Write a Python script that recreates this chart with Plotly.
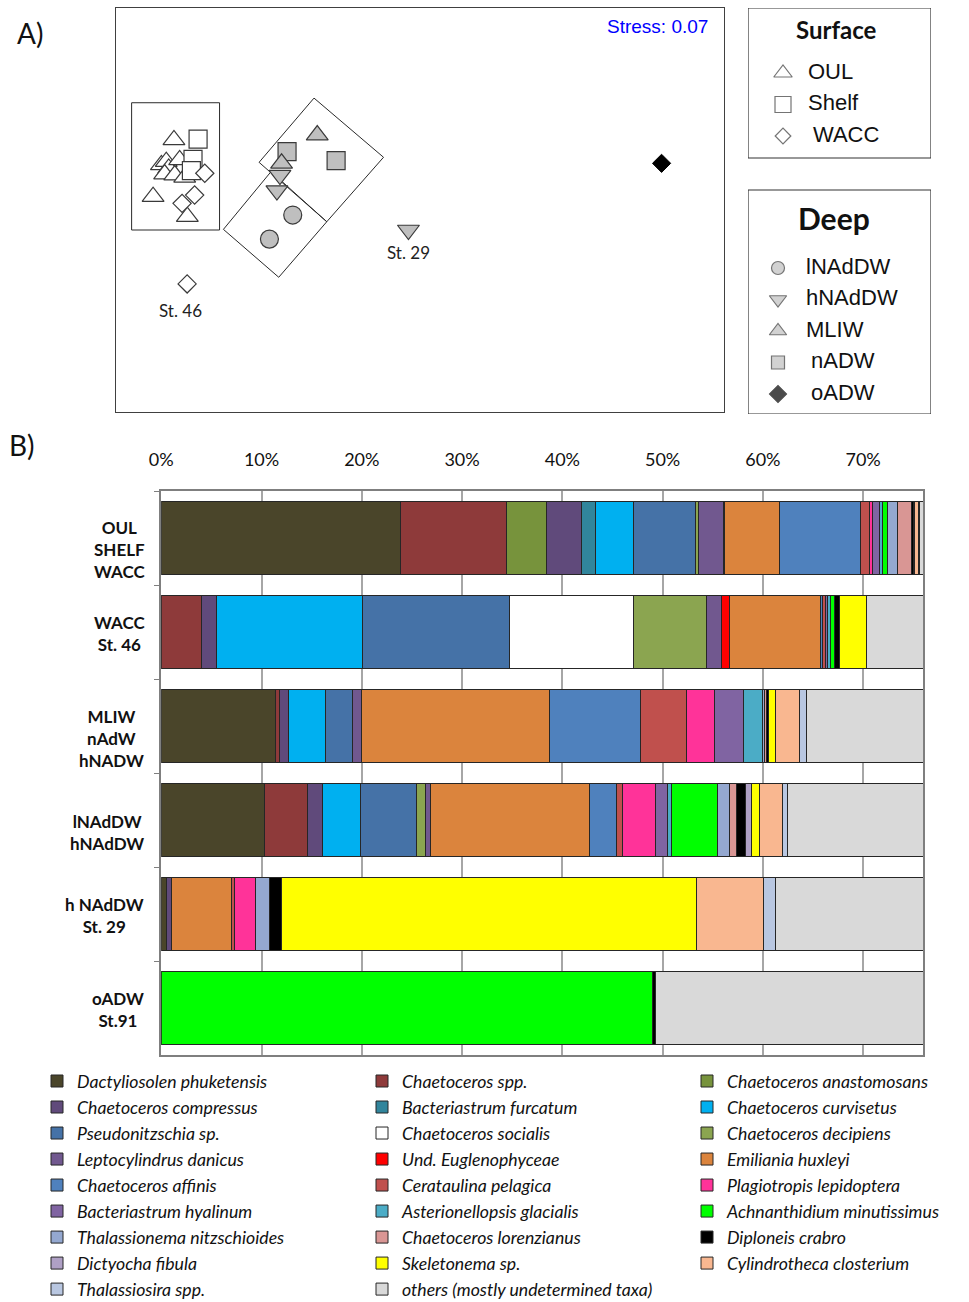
import plotly.graph_objects as go

W, H = 969, 1302

# ---------------- Panel B data ----------------
rows = ["OUL<br>SHELF<br>WACC", "WACC<br>St. 46", "MLIW<br>nAdW<br>hNADW",
        "lNAdDW<br>hNAdDW", "h NAdDW<br>St. 29", "oADW<br>St.91"]

species = ["Dactyliosolen phuketensis", "Chaetoceros spp.", "Chaetoceros anastomosans",
           "Chaetoceros compressus", "Bacteriastrum furcatum", "Chaetoceros curvisetus",
           "Pseudonitzschia sp.", "Chaetoceros socialis", "Chaetoceros decipiens",
           "Leptocylindrus danicus", "Und. Euglenophyceae", "Emiliania huxleyi",
           "Chaetoceros affinis", "Cerataulina pelagica", "Plagiotropis lepidoptera",
           "Bacteriastrum hyalinum", "Asterionellopsis glacialis", "Achnanthidium minutissimus",
           "Thalassionema nitzschioides", "Chaetoceros lorenzianus", "Diploneis crabro",
           "Dictyocha fibula", "Skeletonema sp.", "Cylindrotheca closterium",
           "Thalassiosira spp.", "others (mostly undetermined taxa)"]

values = [
    [23.87, 0, 11.43, 10.34, 0.47, 0],
    [10.6, 4.03, 0.4, 4.29, 0, 0],
    [3.93, 0, 0, 0, 0, 0],
    [3.5, 1.47, 0.83, 1.4, 0.57, 0],
    [1.4, 0, 0, 0, 0, 0],
    [3.8, 14.6, 3.73, 3.86, 0, 0],
    [6.2, 14.6, 2.66, 5.58, 0, 0],
    [0, 12.36, 0, 0, 0, 0],
    [0.3, 7.35, 0, 0.87, 0, 0],
    [2.45, 1.47, 0.87, 0.46, 0, 0],
    [0.15, 0.83, 0, 0, 0, 0],
    [5.5, 9.07, 18.8, 15.95, 5.98, 0],
    [8.07, 0.15, 9.12, 2.66, 0, 0],
    [0.9, 0.33, 4.55, 0.56, 0.27, 0],
    [0.3, 0, 2.83, 3.36, 2.13, 0],
    [0.7, 0.2, 2.86, 1.2, 0, 0],
    [0.3, 0.3, 1.9, 0.37, 0, 0],
    [0.5, 0.35, 0, 4.58, 0, 48.99],
    [0.93, 0, 0.2, 1.16, 1.37, 0],
    [1.4, 0, 0.15, 0.73, 0, 0],
    [0.2, 0.55, 0.27, 0.87, 1.2, 0.25],
    [0, 0, 0, 0.63, 0, 0],
    [0.15, 2.7, 0.64, 0.76, 41.42, 0],
    [0.4, 0, 2.43, 2.33, 6.68, 0],
    [0.1, 0, 0.67, 0.53, 1.13, 0],
    [24.35, 29.64, 35.66, 37.51, 38.78, 50.76],
]

colors = ["#4A452A", "#8E3A3A", "#77933C", "#604A7B", "#31859C", "#00B0F0",
          "#4572A7", "#FFFFFF", "#8BA550", "#71588F", "#FF0000", "#DB843D",
          "#4F81BD", "#C0504D", "#FF3399", "#8064A2", "#4BACC6", "#00FF00",
          "#94A8D0", "#D99694", "#000000", "#AFA0C5", "#FFFF00", "#F9B790",
          "#B9C7E1", "#D9D9D9"]

pct_ticks = [0, 10, 20, 30, 40, 50, 60, 70]

# ---------------- Panel A data (NMDS) ----------------
surface_groups = ["OUL", "Shelf", "WACC"]
oul_x = [-0.714, -0.776, -0.752, -0.740, -0.686, -0.760, -0.710, -0.661, -0.817, -0.648]
oul_y = [0.347, 0.223, 0.239, 0.206, 0.248, 0.178, 0.173, 0.162, 0.066, -0.033]
shelf_x = [-0.595, -0.620, -0.628]
shelf_y = [0.351, 0.251, 0.195]
wacc_x = [-0.562, -0.612, -0.674, -0.649]
wacc_y = [0.182, 0.074, 0.033, -0.366]

deep_groups = ["lNAdDW", "hNAdDW", "MLIW", "nADW", "oADW"]
lnaddw_x = [-0.128, -0.243]
lnaddw_y = [-0.025, -0.144]
hnaddw_x = [-0.191, -0.206, 0.443]
hnaddw_y = [0.173, 0.096, -0.099]
mliw_x = [-0.007, -0.183]
mliw_y = [0.371, 0.231]
nadw_x = [-0.156, 0.086]
nadw_y = [0.289, 0.244]
oadw_x = [1.692]
oadw_y = [0.231]

# cluster outlines
hull_surface_x = [-0.923, -0.489, -0.489, -0.923, -0.923]
hull_surface_y = [0.531, 0.531, -0.099, -0.099, 0.531]
hull_upper_x = [-0.023, 0.320, 0.040, -0.294, -0.023]
hull_upper_y = [0.554, 0.261, -0.058, 0.236, 0.554]
hull_lower_x = [-0.235, 0.040, -0.197, -0.470, -0.235]
hull_lower_y = [0.190, -0.058, -0.333, -0.096, 0.190]

stress_text = "Stress: 0.07"

# ---------------- figure ----------------
fig = go.Figure()

legend_ids = ["legend", "legend2", "legend3"]

# stacked bars
for i, (name, vals, col) in enumerate(zip(species, values, colors)):
    fig.add_trace(go.Bar(
        y=rows, x=vals, name=name, orientation="h",
        marker=dict(color=col, line=dict(color="#262626", width=1)),
        xaxis="x", yaxis="y", showlegend=True, legend=legend_ids[i % 3],
    ))

GRAY = "#BFBFBF"
EDGE = "#3A3A3A"
sym_open = dict(color="white", line=dict(color=EDGE, width=1.2))
sym_gray = dict(color=GRAY, line=dict(color=EDGE, width=1.2))

def pts(x, y, symbol, size, style):
    m = dict(symbol=symbol, size=size, **style)
    fig.add_trace(go.Scatter(x=x, y=y, mode="markers", marker=m,
                             xaxis="x2", yaxis="y2", showlegend=False, hoverinfo="skip"))

# outlines
for hx, hy in [(hull_surface_x, hull_surface_y), (hull_upper_x, hull_upper_y),
               (hull_lower_x, hull_lower_y)]:
    fig.add_trace(go.Scatter(x=hx, y=hy, mode="lines", line=dict(color="#2A2A2A", width=1),
                             xaxis="x2", yaxis="y2", showlegend=False, hoverinfo="skip"))

pts(oul_x, oul_y, "triangle-up", 19, sym_open)
pts(shelf_x, shelf_y, "square", 18, sym_open)
pts(wacc_x, wacc_y, "diamond", 14, sym_open)
pts(nadw_x, nadw_y, "square", 18, sym_gray)
pts(mliw_x, mliw_y, "triangle-up", 19, sym_gray)
pts(hnaddw_x, hnaddw_y, "triangle-down", 19, sym_gray)
pts(lnaddw_x, lnaddw_y, "circle", 18, sym_gray)
pts(oadw_x, oadw_y, "diamond", 14, dict(color="black", line=dict(color="black", width=1)))

# side legends for panel A (hidden axis x3/y3, units = px within the legend column)
surf_symbols = ["triangle-up", "square", "diamond"]
surf_sizes = [16, 16, 12]
deep_symbols = ["circle", "triangle-down", "triangle-up", "square", "diamond"]
deep_sizes = [13, 15, 15, 13, 13]
surf_y = [65 + i * 31.5 for i in range(len(surface_groups))]
deep_y = [260 + i * 31.5 for i in range(len(deep_groups))]
surf_tx = [60, 60, 65]
deep_tx = [58, 58, 58, 63, 63]

fig.add_trace(go.Scatter(x=[35] * 3, y=surf_y, mode="markers",
                         marker=dict(symbol=surf_symbols, size=surf_sizes, color="white",
                                     line=dict(color=EDGE, width=1.2)),
                         xaxis="x3", yaxis="y3", showlegend=False, hoverinfo="skip"))
fig.add_trace(go.Scatter(x=surf_tx, y=surf_y, mode="text", text=surface_groups,
                         textposition="middle right",
                         textfont=dict(family="Liberation Sans, Arial", size=22, color="#111"),
                         xaxis="x3", yaxis="y3", showlegend=False, hoverinfo="skip"))
fig.add_trace(go.Scatter(x=[30] * 5, y=deep_y, mode="markers",
                         marker=dict(symbol=deep_symbols, size=deep_sizes,
                                     color=[GRAY, GRAY, GRAY, GRAY, "black"],
                                     line=dict(color=[EDGE, EDGE, EDGE, EDGE, "black"], width=1.2)),
                         xaxis="x3", yaxis="y3", showlegend=False, hoverinfo="skip"))
fig.add_trace(go.Scatter(x=deep_tx, y=deep_y, mode="text", text=deep_groups,
                         textposition="middle right",
                         textfont=dict(family="Liberation Sans, Arial", size=22, color="#111"),
                         xaxis="x3", yaxis="y3", showlegend=False, hoverinfo="skip"))

shapes = [
    dict(type="rect", xref="x3", yref="y3", x0=0, x1=183, y0=0, y1=150,
         line=dict(color="#333", width=1.2)),
    dict(type="rect", xref="x3", yref="y3", x0=0, x1=183, y0=182, y1=406,
         line=dict(color="#333", width=1.2)),
]

row_label_cx = [119, 119, 111, 107, 104, 118]
row_label_shift = [-11, -1, -12, -12, -1, -1]
annotations = []
for r, cx, sh in zip(rows, row_label_cx, row_label_shift):
    annotations.append(dict(text=r, x=cx / W, xref="paper", y=r, yref="y", yshift=sh,
                            xanchor="center", yanchor="middle", align="center",
                            showarrow=False,
                            font=dict(family="Lato", size=17, color="#111", weight="bold")))

annotations += [
    dict(text="A)", x=30 / W, y=1 - 33 / H, xref="paper", yref="paper", showarrow=False,
         xanchor="center", yanchor="middle", font=dict(family="Lato", size=28, color="#111")),
    dict(text="B)", x=22 / W, y=1 - 445 / H, xref="paper", yref="paper", showarrow=False,
         xanchor="center", yanchor="middle", font=dict(family="Lato", size=28, color="#111")),
    dict(text=stress_text, x=710 / W, y=1 - 27 / H, xref="paper", yref="paper", showarrow=False,
         xanchor="right", yanchor="middle",
         font=dict(family="Liberation Sans, Arial", size=19, color="#0000FF")),
    dict(text="St. 29", x=hnaddw_x[2], y=hnaddw_y[2], xref="x2", yref="y2", yshift=-22,
         showarrow=False, xanchor="center", yanchor="middle",
         font=dict(family="Lato", size=17, color="#222")),
    dict(text="St. 46", x=wacc_x[3], y=wacc_y[3], xref="x2", yref="y2", yshift=-27, xshift=-7,
         showarrow=False, xanchor="center", yanchor="middle",
         font=dict(family="Lato", size=17, color="#222")),
    dict(text="Surface", x=88, y=21, xref="x3", yref="y3", showarrow=False,
         xanchor="center", yanchor="middle",
         font=dict(family="Lato", size=24, color="#111", weight="bold")),
    dict(text="Deep", x=86, y=210, xref="x3", yref="y3", showarrow=False,
         xanchor="center", yanchor="middle",
         font=dict(family="Lato", size=30, color="#111", weight="bold")),
]

legend_font = dict(family="Lato", size=17.7, color="#111", style="italic")
legend_cols_x = [37, 362, 687]
legend_top = 1063
leg = {}
for lid, lx in zip(legend_ids, legend_cols_x):
    leg[lid] = dict(orientation="v", x=lx / W, y=1 - legend_top / H, xanchor="left",
                    yanchor="top", traceorder="normal", font=legend_font,
                    bgcolor="rgba(0,0,0,0)", itemclick=False, itemdoubleclick=False)

fig.update_layout(
    width=W, height=H,
    margin=dict(l=0, r=0, t=0, b=0, autoexpand=False),
    paper_bgcolor="white", plot_bgcolor="white",
    barmode="stack", bargap=0.22,
    font=dict(family="Lato", color="#111"),
    xaxis=dict(domain=[161.3 / W, 923.3 / W], range=[0, 76], side="top",
               tickvals=pct_ticks, ticktext=[f"{t}%" for t in pct_ticks],
               tickfont=dict(family="Lato", size=18, color="#111"),
               ticklabelstandoff=16,
               showgrid=True, gridcolor="#A6A6A6", gridwidth=1.5,
               showline=True, linecolor="#7F7F7F", linewidth=1.5, mirror=True,
               zeroline=False, ticks="", fixedrange=True, anchor="y"),
    yaxis=dict(domain=[1 - 1055 / H, 1 - 491 / H], type="category",
               categoryorder="array", categoryarray=rows, autorange="reversed",
               showticklabels=False, tickson="boundaries", ticks="outside",
               ticklen=6, tickcolor="#7F7F7F", showgrid=False,
               showline=True, linecolor="#7F7F7F", linewidth=1.5, mirror=True,
               anchor="x"),
    xaxis2=dict(domain=[116 / W, 724 / W], range=[-1, 2], showgrid=False, zeroline=False,
                showticklabels=False, ticks="", showline=True, linecolor="#404040",
                linewidth=1.2, mirror=True, anchor="y2"),
    yaxis2=dict(domain=[1 - 412 / H, 1 - 8 / H], range=[-1, 1], showgrid=False, zeroline=False,
                showticklabels=False, ticks="", showline=True, linecolor="#404040",
                linewidth=1.2, mirror=True, anchor="x2"),
    xaxis3=dict(domain=[748 / W, 931 / W], range=[0, 183], visible=False, anchor="y3"),
    yaxis3=dict(domain=[1 - 414 / H, 1 - 8 / H], range=[406, 0], visible=False, anchor="x3"),
    legend=leg["legend"], legend2=leg["legend2"], legend3=leg["legend3"],
    shapes=shapes,
    annotations=annotations,
)

fig.write_html("out.html", post_script="document.body.style.margin='0';",
               config={"displayModeBar": False})
